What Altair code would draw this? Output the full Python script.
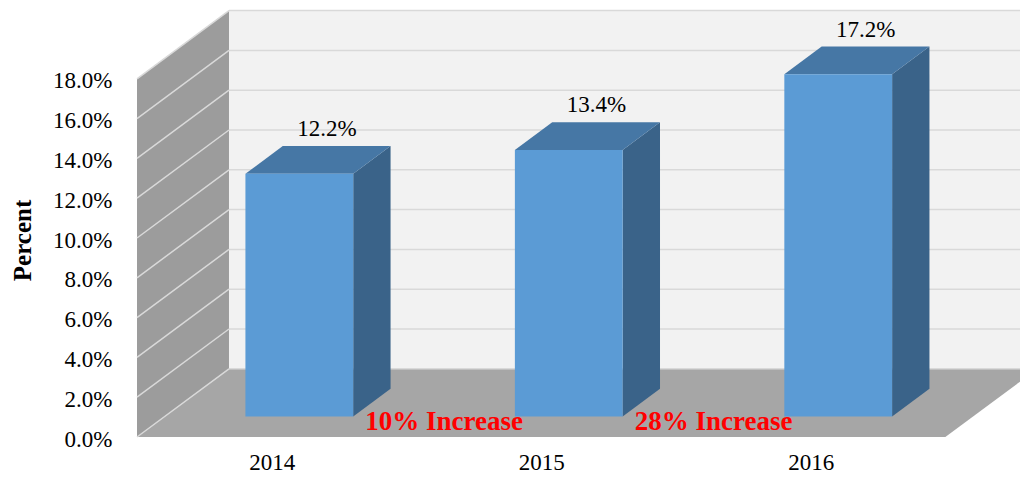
import altair as alt
import pandas as pd

# ---------------- data ----------------
years = ["2014", "2015", "2016"]
values = [12.2, 13.4, 17.2]
increases = ["10% Increase", "28% Increase"]
tick_values = [0, 2, 4, 6, 8, 10, 12, 14, 16, 18]

# ---------------- 3-D projection parameters (data units) ----------------
DX = 0.3414      # depth shift along x (category units)
DY = 3.427       # depth shift along y (percent units)
F = 0.30         # depth fraction of bar front face
D = 0.406        # depth fraction of bar thickness
W = 0.40         # bar width (category units)
WALL_TOP = 18
X0, X1 = -0.5, len(years) - 0.5
PLOT_W, PLOT_H = 883, 429
XMAX = X0 + PLOT_W / 269.45
YMAX = PLOT_H / 19.9
FONT = "Liberation Serif"

xscale = alt.Scale(domain=[X0, XMAX], nice=False, zero=False)
yscale = alt.Scale(domain=[0, YMAX], nice=False, zero=False)

year_expr = "[" + ",".join(f"'{y}'" for y in years) + "][datum.value]"

xaxis = alt.Axis(values=list(range(len(years))), labelExpr=year_expr, domain=False,
                 ticks=False, grid=False, labelPadding=14, labelFont=FONT,
                 labelFontSize=23, labelColor="black", title=None)
yaxis = alt.Axis(values=tick_values, labelExpr="format(datum.value, '.1f') + '%'",
                 domain=False, ticks=False, grid=False, labelPadding=25, labelOffset=2,
                 labelFont=FONT, labelFontSize=23, labelColor="black",
                 title="Percent", titleFont=FONT, titleFontSize=25,
                 titleFontWeight="bold", titleColor="black", titleAngle=-90,
                 titleX=-115, titleY=232, titleAlign="center",
                 titleBaseline="middle")


def qx(f):
    return alt.X(f, type="quantitative", scale=xscale, axis=xaxis)


def qy(f):
    return alt.Y(f, type="quantitative", scale=yscale, axis=yaxis)


# ---------------- frames ----------------
back_df = pd.DataFrame({"x": [X0 + DX], "x2": [X1 + DX], "y": [DY], "y2": [WALL_TOP + DY]})
left_df = pd.DataFrame({"x": [X0, X0 + DX], "y": [0, DY], "y2": [WALL_TOP, WALL_TOP + DY]})
floor_df = pd.DataFrame({"y": [0, DY], "x": [X0, X0 + DX], "x2": [X1, X1 + DX]})
back_grid = pd.DataFrame({"y": [t + DY for t in tick_values], "x": X0 + DX, "x2": X1 + DX})
left_grid = pd.DataFrame({"x": X0, "x2": X0 + DX, "y": tick_values, "y2": [t + DY for t in tick_values]})

front_rows, side_rows, top_rows, label_rows = [], [], [], []
for i, (yr, v) in enumerate(zip(years, values)):
    front_rows.append({"bar": yr, "x": i - W / 2 + F * DX, "x2": i + W / 2 + F * DX,
                       "y": F * DY, "y2": v + F * DY})
    for s in (F, F + D):
        side_rows.append({"bar": yr, "x": i + W / 2 + s * DX, "y": s * DY, "y2": v + s * DY})
        top_rows.append({"bar": yr, "y": v + s * DY, "x": i - W / 2 + s * DX, "x2": i + W / 2 + s * DX})
    label_rows.append({"x": i + 0.6 * DX, "y": v + (F + D) * DY, "text": f"{v:.1f}%"})

front_df = pd.DataFrame(front_rows)
side_df = pd.DataFrame(side_rows)
top_df = pd.DataFrame(top_rows)
label_df = pd.DataFrame(label_rows)
ann_df = pd.DataFrame({"x": [i + 0.5 + 0.41 * DX for i in range(len(increases))],
                       "y": [0] * len(increases), "text": increases})

# ---------------- layers ----------------
back = alt.Chart(back_df).mark_rect(color="#f2f2f2", clip=True).encode(
    x=qx("x:Q"), x2="x2:Q", y=qy("y:Q"), y2="y2:Q")

left = alt.Chart(left_df).mark_area(color="#9c9c9c", orient="vertical", opacity=1).encode(
    x=qx("x:Q"), y=qy("y:Q"), y2="y2:Q")

floor = alt.Chart(floor_df).mark_area(color="#a6a6a6", orient="horizontal", opacity=1, clip=True).encode(
    y=qy("y:Q"), x=qx("x:Q"), x2="x2:Q")

bgrid = alt.Chart(back_grid).mark_rule(color="#d9d9d9", strokeWidth=1.5, clip=True).encode(
    x=qx("x:Q"), x2="x2:Q", y=qy("y:Q"))

lgrid = alt.Chart(left_grid).mark_rule(color="#d9d9d9", strokeWidth=1.5).encode(
    x=qx("x:Q"), x2="x2:Q", y=qy("y:Q"), y2="y2:Q")

side = alt.Chart(side_df).mark_area(color="#3a6389", orient="vertical", opacity=1).encode(
    x=qx("x:Q"), y=qy("y:Q"), y2="y2:Q", detail="bar:N")

top = alt.Chart(top_df).mark_area(color="#4677a5", orient="horizontal", opacity=1).encode(
    y=qy("y:Q"), x=qx("x:Q"), x2="x2:Q", detail="bar:N")

front = alt.Chart(front_df).mark_rect(color="#5b9bd5").encode(
    x=qx("x:Q"), x2="x2:Q", y=qy("y:Q"), y2="y2:Q")

labels = alt.Chart(label_df).mark_text(font=FONT, fontSize=23, color="black",
                                       baseline="alphabetic", align="center", dy=-10).encode(
    x=qx("x:Q"), y=qy("y:Q"), text="text:N")

ann = alt.Chart(ann_df).mark_text(font=FONT, fontSize=27, fontWeight="bold", color="red",
                                  baseline="alphabetic", align="center", dy=-7).encode(
    x=qx("x:Q"), y=qy("y:Q"), text="text:N")

chart = alt.layer(back, left, floor, bgrid, lgrid, side, top, front, labels, ann).properties(
    width=PLOT_W, height=PLOT_H,
    padding={"left": 129, "top": 0, "right": 0, "bottom": 36},
    autosize="none",
).configure_view(stroke=None)

chart.save("out.html", embed_options={"renderer": "svg", "actions": False})
